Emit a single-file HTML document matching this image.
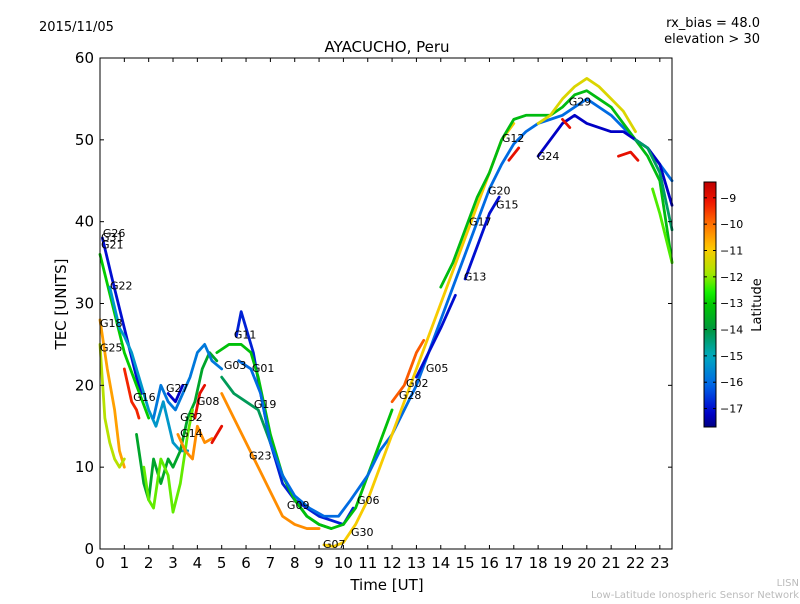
<!DOCTYPE html>
<html><head><meta charset="utf-8"><style>
body{margin:0;background:#fff;width:800px;height:600px;overflow:hidden;font-family:"DejaVu Sans","Liberation Sans",sans-serif}
svg text{font-family:"DejaVu Sans","Liberation Sans",sans-serif}
</style></head><body>
<svg id="chart" width="800" height="600" xmlns="http://www.w3.org/2000/svg">
<rect width="800" height="600" fill="#fff"/>
<text x="39" y="31" font-size="13">2015/11/05</text>
<text x="760" y="27" font-size="13" text-anchor="end">rx_bias = 48.0</text>
<text x="760" y="43" font-size="13" text-anchor="end">elevation &gt; 30</text>
<text x="387" y="52" font-size="15" text-anchor="middle">AYACUCHO, Peru</text>
<text x="387" y="590" font-size="15" text-anchor="middle">Time [UT]</text>
<text x="66" y="304" font-size="15" text-anchor="middle" transform="rotate(-90 66 304)">TEC [UNITS]</text>
<g id="plot"></g>
<g id="axes"></g>
<g id="cbar"></g>
<text x="799" y="586" font-size="10" fill="#bbb" text-anchor="end">LISN</text>
<text x="799" y="598" font-size="10" fill="#bbb" text-anchor="end">Low-Latitude Ionospheric Sensor Network</text>
</svg>
<script>
const xTicks=[0,1,2,3,4,5,6,7,8,9,10,11,12,13,14,15,16,17,18,19,20,21,22,23];
const yTicks=[0,10,20,30,40,50,60];
const cbTicks=[-9,-10,-11,-12,-13,-14,-15,-16,-17];
const s1={lat:-17,t:[0.1,0.5,1,1.5,1.7],v:[38,33,27,21,19]};
const s2={lat:-13,t:[0,0.5,1,1.5,2],v:[36,30,24,20,16]};
const s3={lat:-15.3,t:[0.4,0.8,1,1.3,1.6,2,2.3,2.6,3,3.3,3.6],v:[32,27,26,24,21,17,15,18,13,12,12]};
const s4={lat:-10.5,t:[0,0.3,0.6,0.8,1],v:[28,22,17,12,10]};
const s5={lat:-11.7,t:[0,0.2,0.4,0.6,0.8,1],v:[25,16,13,11,10,11]};
const s6={lat:-9.3,t:[1,1.3,1.5,1.6],v:[22,18,17,16]};
const s7={lat:-13.7,t:[1.5,1.8,2,2.2,2.5,2.8,3,3.3,3.6,3.9,4.2,4.5,4.8],v:[14,8,6,11,8,11,10,12,16,18,22,24,23]};
const s8={lat:-12.2,t:[1.8,2,2.2,2.5,2.8,3,3.3,3.6,3.8],v:[10,6,5,11,9,4.5,8,14,17]};
const s9={lat:-15.8,t:[2.2,2.5,2.8,3.1,3.4,3.7,4,4.3,4.6,5],v:[16,20,18,17,19,21,24,25,23,22]};
const s10={lat:-17.2,t:[2.8,3.1,3.4],v:[19,18,20]};
const s11={lat:-9,t:[3.9,4.1,4.3],v:[16,19,20]};
const s12={lat:-10.3,t:[3.2,3.5,3.8,4,4.3,4.6],v:[14,12,11,15,13,13.5]};
const s13={lat:-9,t:[4.6,4.8,5],v:[13,14,15]};
const s14={lat:-16.8,t:[5.6,5.8,6,6.3,6.6,7,7.5,8,8.5,9,9.5,10,10.4],v:[26,29,27,24,19,13,8,6,5,4,3.5,3,5]};
const s15={lat:-13.2,t:[4.8,5.3,5.8,6.2,6.5,7,7.5,8,8.5,9,9.5,10,10.5,11,11.5,12],v:[24,25,25,24,21,14,9,6,4,3,2.5,3,5,9,13,17]};
const s16={lat:-16,t:[5.7,6.2,6.6,7,7.5,8,8.6,9.2,9.8,10.3,11,11.5,12,12.5,13,13.5,14,14.5,15,15.5,16,16.5,17,17.5,18,18.5,19,19.5,20,20.5,21,21.5,22,22.5,23,23.5],v:[23,22,19,13,9,6.5,5,4,4,6,9,12,14,17,20,24,28,32,36,40,44,47,49.5,51,52,52.5,53,54,55,54,53,51.5,50,49,47,45]};
const s17={lat:-14.2,t:[5,5.5,6,6.5,7,7.5,8,8.5,9,9.5],v:[21,19,18,17,13,9,6,4,3,2.5]};
const s18={lat:-10.3,t:[5,5.5,6,6.5,7,7.5,8,8.5,9],v:[19,16,13,10,7,4,3,2.5,2.5]};
const s19={lat:-11,t:[9.2,9.6,10,10.5,11,11.5,12,12.5,13,13.5,14,14.5,15,15.5,16,16.5,17],v:[0.5,0.3,0.8,3,6,10,14,18,22,26,30,34,38,42,46,50,52]};
const s20={lat:-17,t:[13,13.5,14,14.6],v:[21,24,27,31]};
const s21={lat:-17,t:[15,15.5,16,16.4],v:[33,37,41,43]};
const s22={lat:-9.8,t:[12,12.5,13,13.3],v:[18,20,24,25.5]};
const s23={lat:-13.3,t:[14,14.5,15,15.5,16,16.5,17,17.5,18,18.5,19,19.5,20,20.5,21,21.5,22,22.5,23,23.5],v:[32,35,39,43,46,50,52.5,53,53,53,54,55.5,56,55,54,52,50,48,45,35]};
const s24={lat:-11.3,t:[18,18.5,19,19.5,20,20.5,21,21.5,22],v:[52,53,55,56.5,57.5,56.5,55,53.5,51]};
const s25={lat:-17.2,t:[18,18.5,19,19.5,20,20.5,21,21.5,22,22.5,23,23.5],v:[48,50,52,53,52,51.5,51,51,50,49,47,42]};
const s26={lat:-9,t:[16.8,17.2],v:[47.5,49]};
const s27={lat:-9,t:[21.3,21.8,22.1],v:[48,48.5,47.5]};
const s28={lat:-12.3,t:[22.7,23,23.5],v:[44,41,35]};
const s29={lat:-14.3,t:[22,22.5,23,23.5],v:[50,49,46,39]};
const s30={lat:-9,t:[19,19.3],v:[52.5,51.5]};
const series=[s1,s2,s3,s4,s5,s6,s7,s8,s9,s10,s11,s12,s13,s17,s18,s14,s15,s16,s19,s20,s21,s22,s23,s24,s25,s26,s27,s28,s29,s30];
const labNames=["G26","G31","G21","G22","G18","G25","G16","G27","G08","G32","G14","G11","G03","G01","G19","G23","G09","G07","G06","G30","G02","G28","G05","G13","G17","G15","G20","G12","G24","G29"];
const labT=[0.12,0.04,0.04,0.41,0,0,1.36,2.71,3.98,3.29,3.29,5.5,5.09,6.24,6.32,6.12,7.68,9.16,10.56,10.31,12.57,12.28,13.39,14.95,15.16,16.27,15.94,16.51,17.95,19.26];
const labV=[38.6,38.1,37.2,32.2,27.6,24.6,18.6,19.7,18.1,16.1,14.2,26.2,22.5,22.1,17.7,11.4,5.4,0.6,6.0,2.1,20.3,18.8,22.1,33.3,40.0,42.1,43.8,50.2,48.0,54.7];
const X0=100,X1=672,Y0=549,Y1=58,XMAX=23.5,YMAX=60;
const xs=t=>X0+t/XMAX*(X1-X0), ys=v=>Y0-v/YMAX*(Y0-Y1);
const LMIN=-17.7,LMAX=-8.4;
const stops=[[0,[0,0,130]],[0.06,[0,0,205]],[0.17,[0,100,230]],[0.29,[0,170,190]],[0.4,[0,150,60]],[0.5,[0,200,0]],[0.55,[20,240,0]],[0.63,[170,230,0]],[0.73,[255,200,0]],[0.83,[255,110,0]],[0.92,[240,20,0]],[1,[190,0,0]]];
function jet(f){f=Math.max(0,Math.min(1,f));for(let i=1;i<stops.length;i++){if(f<=stops[i][0]){const a=stops[i-1],b=stops[i],u=(f-a[0])/(b[0]-a[0]);const c=a[1].map((x,k)=>Math.round(x+(b[1][k]-x)*u));return `rgb(${c[0]},${c[1]},${c[2]})`;}}return 'rgb(190,0,0)';}
const col=l=>jet((l-LMIN)/(LMAX-LMIN));
const NS="http://www.w3.org/2000/svg";
function mk(tag,a,p){const e=document.createElementNS(NS,tag);for(const k in a)e.setAttribute(k,a[k]);p.appendChild(e);return e;}
const plot=document.getElementById('plot'),axes=document.getElementById('axes'),cb=document.getElementById('cbar');
series.forEach((s,i)=>{
  const p=mk('polyline',{points:s.t.map((t,j)=>xs(t)+','+ys(s.v[j])).join(' '),fill:'none',stroke:col(s.lat),'stroke-width':2.8,'stroke-linejoin':'round','stroke-linecap':'round'},plot);
  
  
});
labNames.forEach((n,i)=>{
  const t=mk('text',{x:xs(labT[i]),y:ys(labV[i])+4,'font-size':11,fill:'#000'},plot);t.textContent=n;
  
  
});
const fr=mk('rect',{x:X0,y:Y1,width:X1-X0,height:Y0-Y1,fill:'none',stroke:'#000','stroke-width':1},axes);


xTicks.forEach(t=>{const x=xs(t);
  mk('line',{x1:x,x2:x,y1:Y0,y2:Y0-4,stroke:'#000'},axes);mk('line',{x1:x,x2:x,y1:Y1,y2:Y1+4,stroke:'#000'},axes);
  const tx=mk('text',{x:x,y:Y0+19,'font-size':15,'text-anchor':'middle'},axes);tx.textContent=t;
  
  });
yTicks.forEach(v=>{const y=ys(v);
  mk('line',{x1:X0,x2:X0+4,y1:y,y2:y,stroke:'#000'},axes);mk('line',{x1:X1,x2:X1-4,y1:y,y2:y,stroke:'#000'},axes);
  const tx=mk('text',{x:X0-6,y:y+5,'font-size':15,'text-anchor':'end'},axes);tx.textContent=v;
  
  });
const CX=704,CW=12,CT=182,CB=427;
const defs=mk('defs',{},cb);const g=mk('linearGradient',{id:'jg',x1:0,y1:1,x2:0,y2:0},defs);
for(let i=0;i<=40;i++)mk('stop',{offset:i/40,'stop-color':jet(i/40)},g);
const cr=mk('rect',{x:CX,y:CT,width:CW,height:CB-CT,fill:'url(#jg)',stroke:'#000','stroke-width':1},cb);


const cy=l=>CB-(l-LMIN)/(LMAX-LMIN)*(CB-CT);
cbTicks.forEach(l=>{const y=cy(l);mk('line',{x1:CX,x2:CX+3,y1:y,y2:y,stroke:'#000'},cb);mk('line',{x1:CX+CW,x2:CX+CW-3,y1:y,y2:y,stroke:'#000'},cb);
  const tx=mk('text',{x:CX+CW+4,y:y+4,'font-size':11},cb);tx.textContent='\u2212'+Math.abs(l);
  
  });
const lt=mk('text',{x:761,y:305,'font-size':13,'text-anchor':'middle',transform:'rotate(-90 761 305)'},cb);lt.textContent='Latitude';


</script>
</body></html>
